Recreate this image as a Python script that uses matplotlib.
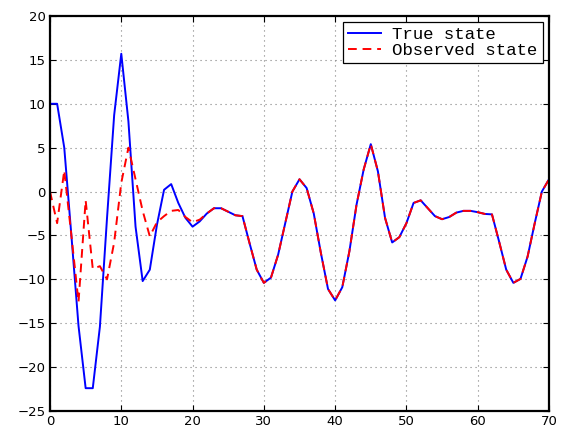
import matplotlib
matplotlib.use("Agg")
import matplotlib.pyplot as plt
import numpy as np

steps = list(range(71))
true_state = [10, 10, 5, -5, -15.3, -22.4, -22.4, -15.4, -3, 8.7,
              15.7, 8, -4, -10.2, -8.9, -3.8, 0.2, 0.85, -1.3, -3.0,
              -4.0, -3.4, -2.5, -1.9, -1.9, -2.3, -2.7, -2.8, -5.9, -8.9,
              -10.4, -9.8, -7.2, -3.6, 0, 1.4, 0.4, -2.5, -7.0, -11.1,
              -12.4, -10.9, -6.8, -1.5, 2.5, 5.4, 2.3, -3.0, -5.8, -5.2,
              -3.6, -1.3, -1.0, -1.9, -2.8, -3.15, -2.9, -2.4, -2.2, -2.2,
              -2.35, -2.55, -2.6, -5.7, -8.9, -10.4, -9.95, -7.4, -3.6, 0,
              1.4]
observed_state = [0, -3.6, 2.4, -5, -12.6, -1.0, -8.8, -8.5, -10.0, -5.8,
                  1.0, 5.0, 1.4, -2.2, -5.1, -3.5, -2.8, -2.2, -2.1, -2.9,
                  -3.5, -3.2, -2.5, -1.9, -1.9, -2.3, -2.7, -2.8, -5.9, -8.9,
                  -10.4, -9.8, -7.2, -3.6, 0, 1.4, 0.4, -2.5, -7.0, -11.1,
                  -12.4, -10.9, -6.8, -1.5, 2.5, 5.4, 2.3, -3.0, -5.8, -5.2,
                  -3.6, -1.3, -1.0, -1.9, -2.8, -3.15, -2.9, -2.4, -2.2, -2.2,
                  -2.35, -2.55, -2.6, -5.7, -8.9, -10.4, -9.95, -7.4, -3.6, 0,
                  1.4]
xticks = [0, 10, 20, 30, 40, 50, 60, 70]
yticks = [-25, -20, -15, -10, -5, 0, 5, 10, 15, 20]

fig = plt.figure(figsize=(5.63, 4.29), dpi=100)
ax = fig.add_axes([50/563, 18/429, 499/563, 395/429])

ax.plot(steps, true_state, color="#0000ff", lw=1.4, label="True state")
ax.plot(steps, observed_state, color="#ff0000", lw=1.4, ls=(0, (4.5, 3)),
        label="Observed state")

ax.set_xlim(0, 70)
ax.set_ylim(-25, 20)
ax.set_xticks(xticks)
ax.set_yticks(yticks)
ax.set_yticklabels([str(v).replace("-", "\u2212") for v in yticks])
ax.grid(True, ls=(0, (1, 3.5)), color="#808080", lw=0.8)
ax.tick_params(direction="in", top=True, right=True, length=4, width=0.8,
               labelsize=9.5, pad=3)
for lab in ax.get_xticklabels() + ax.get_yticklabels():
    lab.set_family("DejaVu Sans")
for s in ax.spines.values():
    s.set_linewidth(1.6)

leg = ax.legend(loc="upper right", prop={"family": "Liberation Mono", "size": 12.5},
                fancybox=False, framealpha=1, edgecolor="black",
                borderaxespad=0.35, handlelength=1.9, handletextpad=0.65,
                borderpad=0.3, labelspacing=0.0)
leg.get_frame().set_linewidth(0.9)

fig.savefig("out.png", dpi=100)
